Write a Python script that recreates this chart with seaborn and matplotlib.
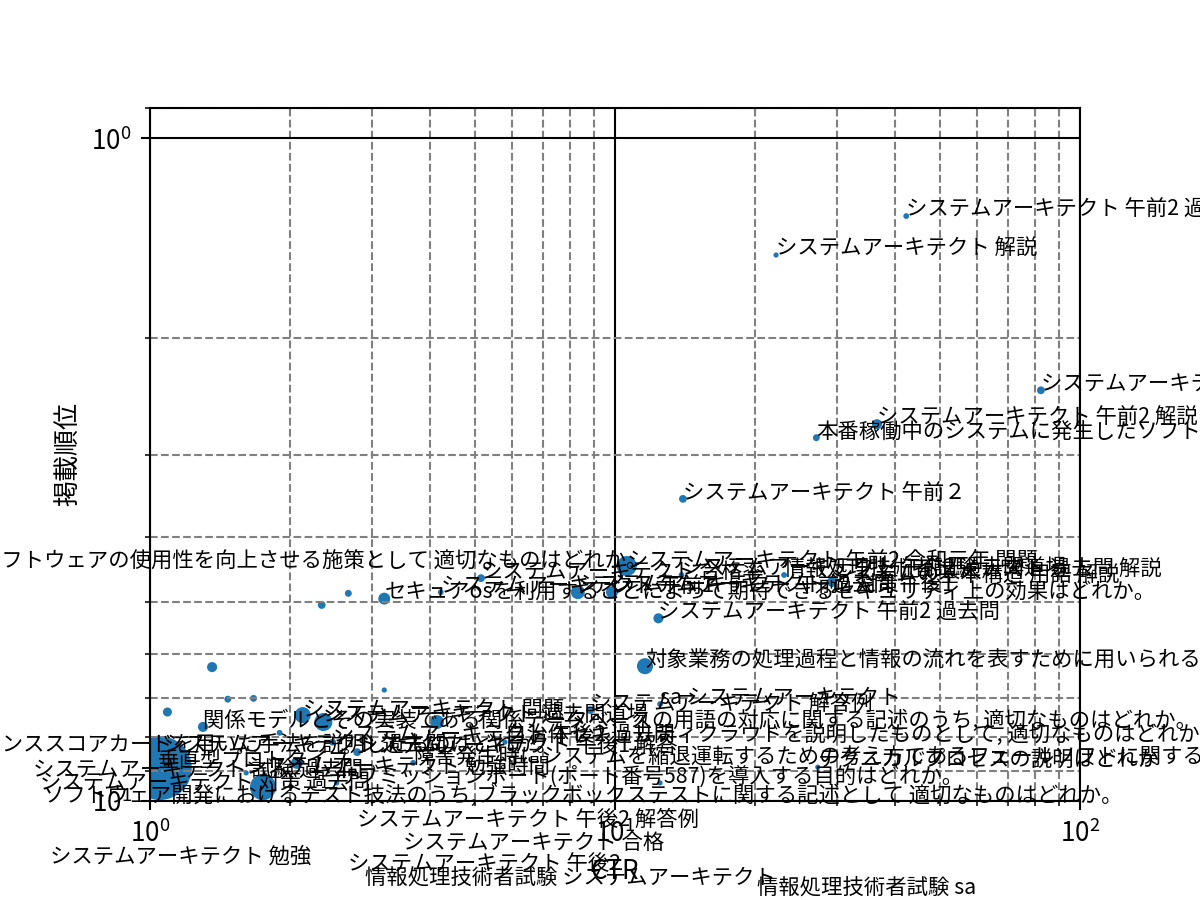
import numpy as np
import pandas as pd
import matplotlib
matplotlib.use('Agg')
import matplotlib.pyplot as plt
import seaborn as sns

plt.rcParams['font.family'] = ['Noto Sans CJK JP', 'DejaVu Sans']

# 検索クエリごとの CTR(%) / 平均掲載順位 / クリック数(マーカーサイズ)
queries = [
    'システムアーキテクト 午前2 過去問',
    'システムアーキテクト 解説',
    'システムアーキテクト 午前2 解答',
    'システムアーキテクト 午前2 解説',
    '本番稼働中のシステムに発生したソフトウェア障害の原因を調べる方法はどれか。',
    'システムアーキテクト 午前２',
    'ソフトウェアの使用性を向上させる施策として 適切なものはどれか。',
    'セキュアosを利用することによって期待できるセキュリティ上の効果はどれか。',
    'システムアーキテクト 午前1',
    'システムアーキテクト 合格率',
    'システムアーキテクト 午前2 対策',
    'システムアーキテクト 午前2 令和元年 問題',
    'システムアーキテクト 過去問 午後1',
    'システムアーキテクト 午前2 過去問道場',
    '情報処理技術者試験 テスト 過去問 解説',
    'システムの基本構造 用語 解説',
    'システムアーキテクト 午前2 過去問',
    '対象業務の処理過程と情報の流れを表すために用いられる図法はどれか。',
    '', '', '', '', '', '', '',
    '関係モデルとその実装である関係データベースの用語の対応に関する記述のうち, 適切なものはどれか。',
    '',
    'システムアーキテクト 問題',
    'システムアーキテクト 過去問道場',
    '', '',
    'システムアーキテクト 午後2 過去問',
    '',
    'システムアーキテクト 午後1 解答',
    '',
    '障害発生時にシステムを縮退運転するための考え方であるフェールソフトに関する説明はどれか。',
    'システムアーキテクト 解答例',
    'sa システムアーキテクト',
    'テクニカルプロセスの説明はどれか',
    '',
    '自治体セキュリティクラウドを説明したものとして, 適切なものはどれか。',
    'サブミッションポート(ポート番号587)を導入する目的はどれか。',
    'バランススコアカードを用いた手法を説明したものはどれか。',
    '垂直型プロトタイプ',
    'システムアーキテクト 試験 過去問',
    'システムアーキテクト 対策 過去問',
    'ソフトウェア開発におけるテスト技法のうち,ブラックボックステストに関する記述として 適切なものはどれか。',
    'システムアーキテクト 勉強時間',
    'システムアーキテクト 勉強',
    'システムアーキテクト 午後2 解答例',
    'システムアーキテクト 合格',
    'システムアーキテクト 午後2',
    '情報処理技術者試験 システムアーキテクト',
    '情報処理技術者試験 sa',
    'システムアーキテクト 過去問',
]

ctr = [42.3, 22.2, 82.4, 36.6, 27.1, 14.0, 0.43, 3.19, 4.22, 5.15,
       8.32, 10.6, 9.85, 13.9, 23.1, 29.3, 12.4, 11.6, 2.34, 2.67,
       1.36, 3.19, 1.47, 1.67, 1.09, 1.30, 1.05, 2.13, 2.36, 1.90,
       1.75, 2.47, 2.07, 2.79, 4.14, 3.68, 8.84, 12.5, 27.3, 12.5,
       5.80, 2.52, 0.39, 1.04, 0.56, 0.58, 0.59, 1.61, 0.61, 2.79,
       3.50, 2.67, 2.90, 20.2, 1.07]

rank = [1.31, 1.50, 2.40, 2.70, 2.83, 3.50, 4.45, 4.95, 4.84, 4.61,
        4.84, 4.42, 4.84, 4.56, 4.56, 4.67, 5.30, 6.26, 5.06, 4.86,
        6.28, 6.80, 7.02, 7.00, 7.34, 7.73, 8.92, 7.42, 7.60, 7.89,
        9.53, 8.15, 8.76, 8.44, 7.60, 8.76, 7.29, 7.14, 8.89, 9.39,
        8.15, 9.39, 8.44, 8.89, 9.20, 9.62, 10.03, 9.07, 12.4, 10.9,
        11.8, 12.7, 13.3, 13.8, 8.44]

clicks = [5, 4, 9, 15, 7, 9, 4, 21, 5, 9,
          29, 59, 21, 5, 5, 15, 15, 38, 9, 7,
          15, 4, 7, 7, 12, 15, 600, 38, 48, 5,
          100, 7, 21, 9, 29, 5, 9, 5, 4, 4,
          4, 4, 4, 4, 4, 4, 4, 4, 4, 4,
          4, 4, 4, 4, 4]

df = pd.DataFrame({'query': queries, 'CTR': ctr, '掲載順位': rank, 'クリック数': clicks})

fig, ax = plt.subplots(figsize=(6.4, 4.8), dpi=187.5)

smin, smax = min(clicks), max(clicks)
sns.scatterplot(data=df, x='CTR', y='掲載順位', size='クリック数',
                sizes=(smin, smax), size_norm=(smin, smax),
                color='#1f77b4', linewidth=0, legend=False, ax=ax)

ax.set_xscale('log')
ax.set_yscale('log')
ax.set_xlim(1, 100)
ax.set_ylim(10, 0.9)

ax.grid(which='major', color='black', linestyle='-', linewidth=0.8)
ax.grid(which='minor', color='gray', linestyle='--', linewidth=0.8)

# ラベルは点の位置に置く(軸外もクリップしない)
for _, row in df.iterrows():
    if row['query']:
        ax.text(row['CTR'], row['掲載順位'], row['query'], fontsize=8.2)

ax.set_xlabel('CTR')
ax.set_ylabel('掲載順位')

fig.savefig('out.png', dpi=187.5)
